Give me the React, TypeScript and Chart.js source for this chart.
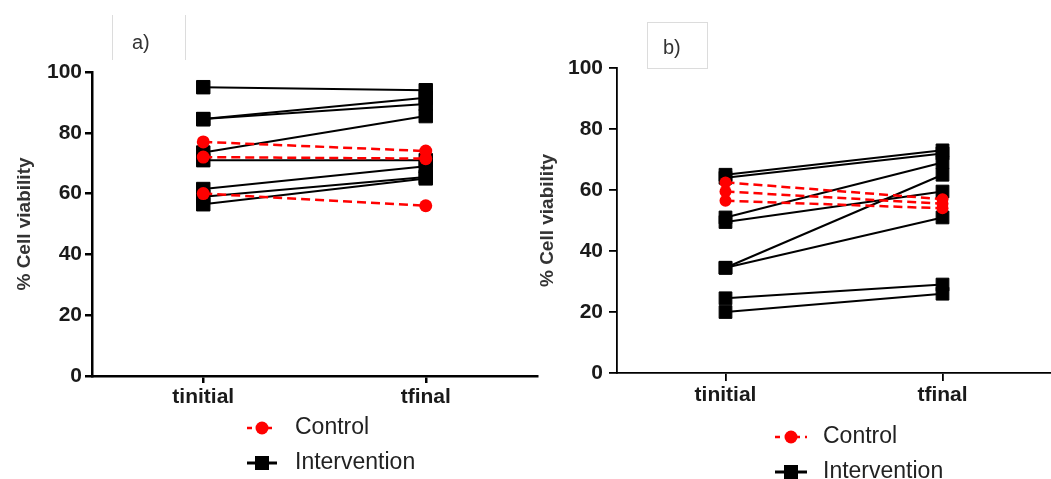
import React, { useEffect, useRef } from 'react';
import { Chart, registerables } from 'chart.js';

Chart.register(...registerables);

const FONT = '"Liberation Sans", Arial, sans-serif';

const categories = ['tinitial', 'tfinal'];
const yMin = 0;
const yMax = 100;
const yStep = 20;
const yTitle = '% Cell viability';
const legendLabels = ['Control', 'Intervention'];
const panelLabels = ['a)', 'b)'];

// Panel a
const aControlInitial = [77, 72, 60];
const aControlFinal = [74, 71.5, 56];
const aInterventionInitial = [95, 84.5, 84.5, 73.5, 71, 61.5, 59, 56.5];
const aInterventionFinal = [94, 91.5, 89.5, 85.5, 71, 69, 65.5, 65];

// Panel b
const bControlInitial = [62.5, 59.5, 56.5];
const bControlFinal = [57, 55.5, 54];
const bInterventionInitial = [65, 64, 51, 49.5, 34.5, 34.5, 24.5, 20];
const bInterventionFinal = [73, 72, 69, 59.5, 65, 51, 29, 26];

type PanelCfg = {
  left: number;
  width: number;
  yAxisWidth: number;
  padTop: number;
  padBottom: number;
  padRight: number;
  axisWidth: number;
  tickLen: number;
  tickPad: number;
  titlePad: number;
  squareR: number;
  circleR: number;
  ctrlInit: number[];
  ctrlFinal: number[];
  intInit: number[];
  intFinal: number[];
  label: string;
  legend: { x0: number; x1: number; tx: number; y1: number; y2: number };
  boxed: boolean;
  labelBox: { x0: number; x1: number; y0: number; y1: number; tx: number; ty: number };
};

const panels: PanelCfg[] = [
  {
    left: 0, width: 540, yAxisWidth: 92, padTop: 72, padBottom: 63, padRight: 3,
    axisWidth: 2.5, tickLen: 7, tickPad: 3, titlePad: 13, squareR: 9.5, circleR: 6.5,
    ctrlInit: aControlInitial, ctrlFinal: aControlFinal,
    intInit: aInterventionInitial, intFinal: aInterventionFinal,
    label: panelLabels[0],
    legend: { x0: 247, x1: 277, tx: 295, y1: 428, y2: 463 },
    boxed: false,
    labelBox: { x0: 112, x1: 185, y0: 15, y1: 60, tx: 132, ty: 43 },
  },
  {
    left: 520, width: 531, yAxisWidth: 97, padTop: 68, padBottom: 66, padRight: 0,
    axisWidth: 1.8, tickLen: 8, tickPad: 6, titlePad: 16, squareR: 9, circleR: 6,
    ctrlInit: bControlInitial, ctrlFinal: bControlFinal,
    intInit: bInterventionInitial, intFinal: bInterventionFinal,
    label: panelLabels[1],
    legend: { x0: 255, x1: 287, tx: 303, y1: 437, y2: 472 },
    boxed: true,
    labelBox: { x0: 127, x1: 187, y0: 22, y1: 68, tx: 143, ty: 48 },
  },
];

function Panel({ cfg }: { cfg: PanelCfg }) {
  const ref = useRef<HTMLCanvasElement | null>(null);
  useEffect(() => {
    if (!ref.current) return;
    const datasets: any[] = [];
    cfg.intInit.forEach((v, i) => {
      datasets.push({
        label: legendLabels[1],
        data: [v, cfg.intFinal[i]],
        borderColor: '#000',
        backgroundColor: '#000',
        borderWidth: 2,
        pointStyle: 'rect',
        pointRadius: cfg.squareR,
        pointBorderWidth: 1,
        pointBorderColor: '#000',
        pointBackgroundColor: '#000',
        tension: 0,
        order: 2,
      });
    });
    cfg.ctrlInit.forEach((v, i) => {
      datasets.push({
        label: legendLabels[0],
        data: [v, cfg.ctrlFinal[i]],
        borderColor: '#ff0000',
        backgroundColor: '#ff0000',
        borderWidth: 2.5,
        borderDash: [9, 5],
        pointStyle: 'circle',
        pointRadius: cfg.circleR,
        pointBorderWidth: 0,
        pointBackgroundColor: '#ff0000',
        tension: 0,
        order: 1,
      });
    });

    const decor = {
      id: 'decor',
      afterDraw(chart: any) {
        const ctx = chart.ctx;
        ctx.save();
        const b = cfg.labelBox;
        ctx.strokeStyle = '#dcdcdc';
        ctx.lineWidth = 1;
        if (cfg.boxed) {
          ctx.strokeRect(b.x0 + 0.5, b.y0 + 0.5, b.x1 - b.x0, b.y1 - b.y0);
        } else {
          ctx.beginPath();
          ctx.moveTo(b.x0 + 0.5, b.y0);
          ctx.lineTo(b.x0 + 0.5, b.y1);
          ctx.moveTo(b.x1 + 0.5, b.y0);
          ctx.lineTo(b.x1 + 0.5, b.y1);
          ctx.stroke();
        }
        ctx.fillStyle = '#333';
        ctx.font = `20px ${FONT}`;
        ctx.textBaseline = 'middle';
        ctx.textAlign = 'left';
        ctx.fillText(cfg.label, b.tx, b.ty);

        const L = cfg.legend;
        const mx = (L.x0 + L.x1) / 2;
        ctx.strokeStyle = '#ff0000';
        ctx.lineWidth = 2.5;
        ctx.setLineDash([5, 5]);
        ctx.beginPath();
        ctx.moveTo(L.x0, L.y1);
        ctx.lineTo(L.x1, L.y1);
        ctx.stroke();
        ctx.setLineDash([]);
        ctx.fillStyle = '#ff0000';
        ctx.beginPath();
        ctx.arc(mx, L.y1, 6.5, 0, Math.PI * 2);
        ctx.fill();

        ctx.strokeStyle = '#000';
        ctx.lineWidth = 3;
        ctx.beginPath();
        ctx.moveTo(L.x0, L.y2);
        ctx.lineTo(L.x1, L.y2);
        ctx.stroke();
        ctx.fillStyle = '#000';
        ctx.fillRect(mx - 7, L.y2 - 7, 14, 14);

        ctx.fillStyle = '#222';
        ctx.font = `23px ${FONT}`;
        ctx.fillText(legendLabels[0], L.tx, L.y1);
        ctx.fillText(legendLabels[1], L.tx, L.y2);
        ctx.restore();
      },
    };

    const tickFont = { family: FONT, size: 21, weight: 'bold' as const };
    const chart = new Chart(ref.current, {
      type: 'line',
      data: { labels: categories, datasets },
      options: {
        animation: false,
        responsive: true,
        maintainAspectRatio: false,
        layout: { autoPadding: false, padding: { top: cfg.padTop, bottom: cfg.padBottom, left: 0, right: cfg.padRight } },
        plugins: { legend: { display: false }, tooltip: { enabled: false } },
        scales: {
          x: {
            type: 'category',
            offset: true,
            grid: { display: true, drawOnChartArea: false, drawTicks: true, tickLength: cfg.tickLen, color: '#000', lineWidth: cfg.axisWidth },
            border: { display: true, color: '#000', width: cfg.axisWidth },
            ticks: { font: tickFont, color: '#1a1a1a', padding: 2 },
            afterFit: (s: any) => { s.height = 40; },
          },
          y: {
            min: yMin,
            max: yMax,
            grid: { display: true, drawOnChartArea: false, drawTicks: true, tickLength: cfg.tickLen, color: '#000', lineWidth: cfg.axisWidth },
            border: { display: true, color: '#000', width: cfg.axisWidth },
            ticks: { stepSize: yStep, font: tickFont, color: '#1a1a1a', padding: cfg.tickPad },
            title: {
              display: true,
              text: yTitle,
              font: { family: FONT, size: 19, weight: 'bold' },
              color: '#333',
              padding: { top: cfg.titlePad, bottom: 0 },
            },
            afterFit: (s: any) => { s.width = cfg.yAxisWidth; },
          },
        },
      },
      plugins: [decor],
    });
    return () => chart.destroy();
  }, [cfg]);

  return (
    <div style={{ position: 'absolute', left: cfg.left, top: 0, width: cfg.width, height: 479 }}>
      <canvas ref={ref} />
    </div>
  );
}

export default function App() {
  return (
    <div style={{ position: 'absolute', left: 0, top: 0, width: 1051, height: 479, overflow: 'hidden', background: '#fff' }}>
      {panels.map((p, i) => (
        <Panel key={i} cfg={p} />
      ))}
    </div>
  );
}
